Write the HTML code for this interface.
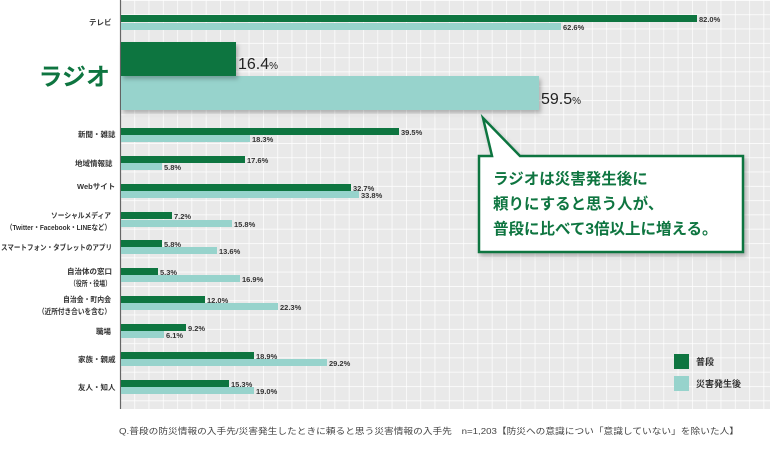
<!DOCTYPE html>
<html><head><meta charset="utf-8"><style>
body{margin:0;width:770px;height:447px;background:#fff;overflow:hidden;font-family:"Liberation Sans","Noto Sans CJK JP",sans-serif}
</style></head><body>
<svg width="770" height="447" xmlns="http://www.w3.org/2000/svg" font-family="Liberation Sans, Noto Sans CJK JP, sans-serif">
<defs>
<pattern id="g" x="120" y="0" width="14.3" height="14.3" patternUnits="userSpaceOnUse">
<rect width="14.3" height="14.3" fill="#e9e9e9"/>
<path d="M0 0V14.3M0 0H14.3" stroke="#fff" stroke-width="1.4"/>
</pattern>
<filter id="sh" x="-10%" y="-10%" width="130%" height="140%"><feDropShadow dx="2" dy="3" stdDeviation="2" flood-color="#000" flood-opacity="0.25"/></filter>
</defs>
<rect x="120" y="0" width="650" height="409" fill="url(#g)"/>
<line x1="120.5" y1="0" x2="120.5" y2="409" stroke="#666" stroke-width="1.2"/>
<g fill="#0e7540">
<rect x="121" y="15" width="576" height="7"/>
<rect x="121" y="128" width="278" height="7"/>
<rect x="121" y="156" width="124" height="7"/>
<rect x="121" y="184" width="230" height="7"/>
<rect x="121" y="212" width="51" height="7"/>
<rect x="121" y="240" width="41" height="7"/>
<rect x="121" y="268" width="37" height="7"/>
<rect x="121" y="296" width="84" height="7"/>
<rect x="121" y="324" width="65" height="7"/>
<rect x="121" y="352" width="133" height="7"/>
<rect x="121" y="380" width="108" height="7"/>
</g>
<g fill="#97d3cc">
<rect x="121" y="23" width="440" height="7"/>
<rect x="121" y="135" width="129" height="7"/>
<rect x="121" y="163" width="41" height="7"/>
<rect x="121" y="191" width="238" height="7"/>
<rect x="121" y="220" width="111" height="7"/>
<rect x="121" y="247" width="96" height="7"/>
<rect x="121" y="275" width="119" height="7"/>
<rect x="121" y="303" width="157" height="7"/>
<rect x="121" y="331" width="43" height="7"/>
<rect x="121" y="359" width="206" height="7"/>
<rect x="121" y="387" width="133" height="7"/>
</g>
<rect x="121" y="76" width="418" height="34" fill="#97d3cc" filter="url(#sh)"/>
<rect x="121" y="42" width="115" height="34" fill="#0e7540" filter="url(#sh)"/>
<g font-size="7.5" font-weight="bold" fill="#333">
<text x="699" y="22">82.0%</text><text x="563" y="30">62.6%</text>
<text x="401" y="135">39.5%</text><text x="252" y="142">18.3%</text>
<text x="247" y="163">17.6%</text><text x="164" y="170">5.8%</text>
<text x="353" y="191">32.7%</text><text x="361" y="198">33.8%</text>
<text x="174" y="219">7.2%</text><text x="234" y="227">15.8%</text>
<text x="164" y="247">5.8%</text><text x="219" y="254">13.6%</text>
<text x="160" y="275">5.3%</text><text x="242" y="282">16.9%</text>
<text x="207" y="303">12.0%</text><text x="280" y="310">22.3%</text>
<text x="188" y="331">9.2%</text><text x="166" y="338">6.1%</text>
<text x="256" y="359">18.9%</text><text x="329" y="366">29.2%</text>
<text x="231" y="387">15.3%</text><text x="256" y="394">19.0%</text>
</g>
<text x="238" y="69" font-size="16" fill="#222">16.4<tspan font-size="10">%</tspan></text>
<text x="541" y="104" font-size="16" fill="#222">59.5<tspan font-size="10">%</tspan></text>
<g font-size="7.5" font-weight="bold" fill="#333">
<text x="89" y="25">テレビ</text>
<text x="78" y="137">新聞・雑誌</text>
<text x="75" y="166">地域情報誌</text>
<text x="77" y="189">Webサイト</text>
<text x="51" y="218" textLength="60" lengthAdjust="spacingAndGlyphs">ソーシャルメディア</text>
<text x="6" y="230" textLength="105" lengthAdjust="spacingAndGlyphs">（Twitter・Facebook・LINEなど）</text>
<text x="1" y="250" textLength="111" lengthAdjust="spacingAndGlyphs">スマートフォン・タブレットのアプリ</text>
<text x="67" y="274">自治体の窓口</text>
<text x="70" y="286" textLength="41" lengthAdjust="spacingAndGlyphs">（役所・役場）</text>
<text x="63" y="302" textLength="48" lengthAdjust="spacingAndGlyphs">自治会・町内会</text>
<text x="38" y="314" textLength="73" lengthAdjust="spacingAndGlyphs">（近所付き合いを含む）</text>
<text x="96" y="334">職場</text>
<text x="78" y="362">家族・親戚</text>
<text x="78" y="390">友人・知人</text>
</g>
<text x="110" y="85" font-size="24" font-weight="bold" fill="#0e7540" text-anchor="end">ラジオ</text>
<path d="M479 156 H492 L483 118 L520 156 H743 V252 H479 Z" fill="#fff" stroke="#0e7540" stroke-width="2.5" stroke-linejoin="miter" filter="url(#sh)"/>
<g font-size="15.5" font-weight="bold" fill="#0e7540">
<text x="493" y="184">ラジオは災害発生後に</text>
<text x="493" y="209">頼りにすると思う人が、</text>
<text x="493" y="234">普段に比べて3倍以上に増える。</text>
</g>
<rect x="674" y="354" width="15" height="15" fill="#0e7540"/>
<rect x="674" y="376" width="15" height="15" fill="#97d3cc"/>
<g font-size="9" font-weight="bold" fill="#333">
<text x="696" y="365">普段</text><text x="696" y="387">災害発生後</text>
</g>
<text x="119" y="434" font-size="8.5" fill="#444" textLength="620" lengthAdjust="spacingAndGlyphs">Q.普段の防災情報の入手先/災害発生したときに頼ると思う災害情報の入手先　n=1,203【防災への意識につい「意識していない」を除いた人】</text>
</svg>
</body></html>
